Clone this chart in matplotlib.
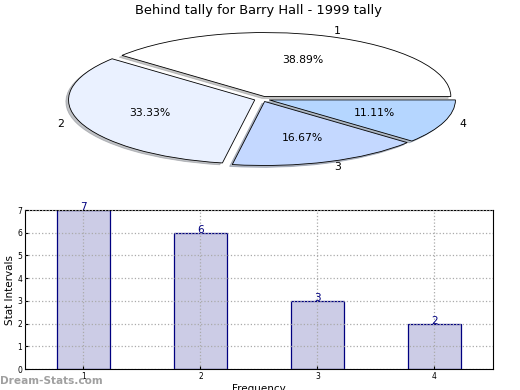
import matplotlib
matplotlib.use("Agg")
import matplotlib.pyplot as plt

# data
slice_labels = ["1", "2", "3", "4"]
slice_values = [7, 6, 3, 2]
slice_colors = ["#FFFFFF", "#EAF1FF", "#C4D8FF", "#B5D6FF"]

bar_categories = [1, 2, 3, 4]
bar_values = [7, 6, 3, 2]
y_ticks = [0, 1, 2, 3, 4, 5, 6, 7]


def main():
    fig = plt.figure(figsize=(5.2, 3.9), dpi=100)

    fig.text(0.498, 0.972, "Behind tally for Barry Hall - 1999 tally",
             ha="center", va="center", fontsize=9.4)

    # pie, squashed into an ellipse
    ax_pie = fig.add_axes([0.0423, 0.5346, 0.923, 0.423])
    wedges, texts, autotexts = ax_pie.pie(
        slice_values, labels=slice_labels, colors=slice_colors,
        autopct="%.2f%%", startangle=0, counterclock=True, radius=0.97,
        explode=[0.04, 0.04, 0.04, 0.04], shadow={"ox": -0.01, "oy": -0.02, "shade": 0.45},
        labeldistance=1.09, pctdistance=0.6,
        wedgeprops={"edgecolor": "black", "linewidth": 0.6},
        textprops={"fontsize": 7.8})
    ax_pie.set_aspect("auto")
    ax_pie.set_xlim(-1.25, 1.25)
    ax_pie.set_ylim(-1.25, 1.25)
    ax_pie.axis("off")

    # bar chart
    ax = fig.add_axes([0.048, 0.0538, 0.9, 0.4077])
    ax.bar(bar_categories, bar_values, width=0.45, color="#CCCCE6",
           edgecolor="#000080", linewidth=0.9, zorder=1)
    for x, v in zip(bar_categories, bar_values):
        ax.text(x, v, str(v), ha="center", va="baseline", fontsize=7.5,
                color="#000080")
    ax.set_xlim(0.5, 4.5)
    ax.set_ylim(0, 7)
    ax.set_xticks(bar_categories)
    ax.set_yticks(y_ticks)
    ax.tick_params(labelsize=5.5, length=2, direction="in", pad=2)
    ax.grid(True, linestyle=":", color="#AAAAAA", linewidth=0.9, zorder=3)
    ax.set_axisbelow(False)
    ax.set_ylabel("Stat Intervals", fontsize=7.5, labelpad=2)
    ax.set_xlabel("Frequency", fontsize=7.5, labelpad=2)

    fig.text(0.0, 0.024, "Dream-Stats.com", fontsize=7.6, color="#A0A0A0",
             fontweight="bold", ha="left", va="center")

    fig.savefig("out.png", dpi=100)


if __name__ == "__main__":
    main()
